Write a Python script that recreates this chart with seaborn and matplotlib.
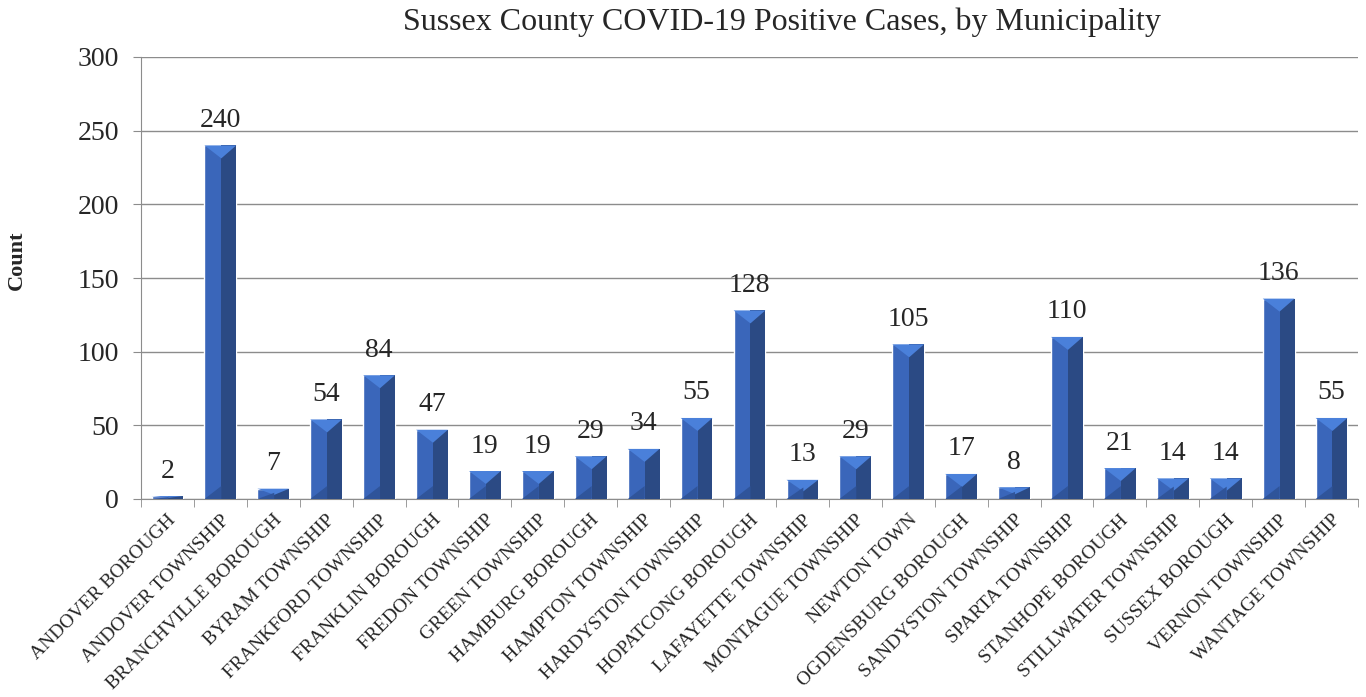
import pandas as pd
import matplotlib.pyplot as plt
import seaborn as sns
from matplotlib.patches import Polygon, Rectangle

# -----------------------------
# DATA
# -----------------------------

municipalities = [
    "ANDOVER BOROUGH", "ANDOVER TOWNSHIP", "BRANCHVILLE BOROUGH", "BYRAM TOWNSHIP",
    "FRANKFORD TOWNSHIP", "FRANKLIN BOROUGH", "FREDON TOWNSHIP", "GREEN TOWNSHIP",
    "HAMBURG BOROUGH", "HAMPTON TOWNSHIP", "HARDYSTON TOWNSHIP", "HOPATCONG BOROUGH",
    "LAFAYETTE TOWNSHIP", "MONTAGUE TOWNSHIP", "NEWTON TOWN", "OGDENSBURG BOROUGH",
    "SANDYSTON TOWNSHIP", "SPARTA TOWNSHIP", "STANHOPE BOROUGH", "STILLWATER TOWNSHIP",
    "SUSSEX BOROUGH", "VERNON TOWNSHIP", "WANTAGE TOWNSHIP",
]
cases = [2, 240, 7, 54, 84, 47, 19, 19, 29, 34, 55, 128, 13, 29, 105, 17, 8, 110, 21, 14, 14, 136, 55]

df = pd.DataFrame({"municipality": municipalities, "cases": cases})

# -----------------------------
# PLOT
# -----------------------------

sns.set_style("white")
plt.rcParams["font.family"] = ["Liberation Serif", "DejaVu Serif"]

fig = plt.figure(figsize=(13.66, 6.97), dpi=100)
ax = fig.add_axes([141 / 1366, 1 - 499 / 697, (1358 - 141) / 1366, (499 - 57) / 697])

sns.barplot(data=df, x="municipality", y="cases", color="#3A66BA",
            width=0.6, saturation=1, ax=ax, zorder=3)

# bevel look: darker right side, light V on top, shaded bottom corner
for p in ax.patches:
    x0, w, h = p.get_x(), p.get_width(), p.get_height()
    split = x0 + w * 0.53
    cap = min(8.8, h * 0.6)
    ax.add_patch(Rectangle((split, 0), x0 + w - split, h, color="#2B4A84", zorder=4, lw=0))
    ax.add_patch(Polygon([(x0, h), (x0 + w, h), (split, h - cap)],
                         closed=True, color="#4A80DA", zorder=5, lw=0))
    ax.add_patch(Polygon([(x0, 0), (split, cap), (split, 0)],
                         closed=True, color="#2F549A", zorder=5, lw=0))

for i, v in enumerate(cases):
    ax.annotate(str(v), (i, v), xytext=(0, 18), textcoords="offset points",
                ha="center", va="center", fontsize=20)

ax.set_ylim(0, 300)
ax.set_xlim(-0.5, len(cases) - 0.5)
ax.set_yticks(range(0, 301, 50))
ax.yaxis.grid(True, color="#8C8C8C", lw=1, zorder=0)
ax.tick_params(axis="y", labelsize=20, length=6, color="#8C8C8C", direction="out",
               left=True, pad=10)
ax.tick_params(axis="x", labelsize=14, pad=9)
ax.set_xticks([i - 0.5 for i in range(len(cases) + 1)], minor=True)
ax.tick_params(axis="x", which="major", length=0)
ax.tick_params(axis="x", which="minor", length=6, color="#8C8C8C", bottom=True)
plt.setp(ax.get_xticklabels(), rotation=45, ha="right", rotation_mode="anchor")

for s in ["top", "right"]:
    ax.spines[s].set_visible(False)
for s in ["left", "bottom"]:
    ax.spines[s].set_color("#8C8C8C")

ax.set_xlabel("")
ax.set_ylabel("Count", fontsize=16, fontweight="bold", labelpad=36)
ax.yaxis.label.set_y(0.54)
fig.text(782 / 1366, 1 - 22 / 697, "Sussex County COVID-19 Positive Cases, by Municipality",
         ha="center", va="center", fontsize=23)

plt.savefig("out.png", dpi=100)
